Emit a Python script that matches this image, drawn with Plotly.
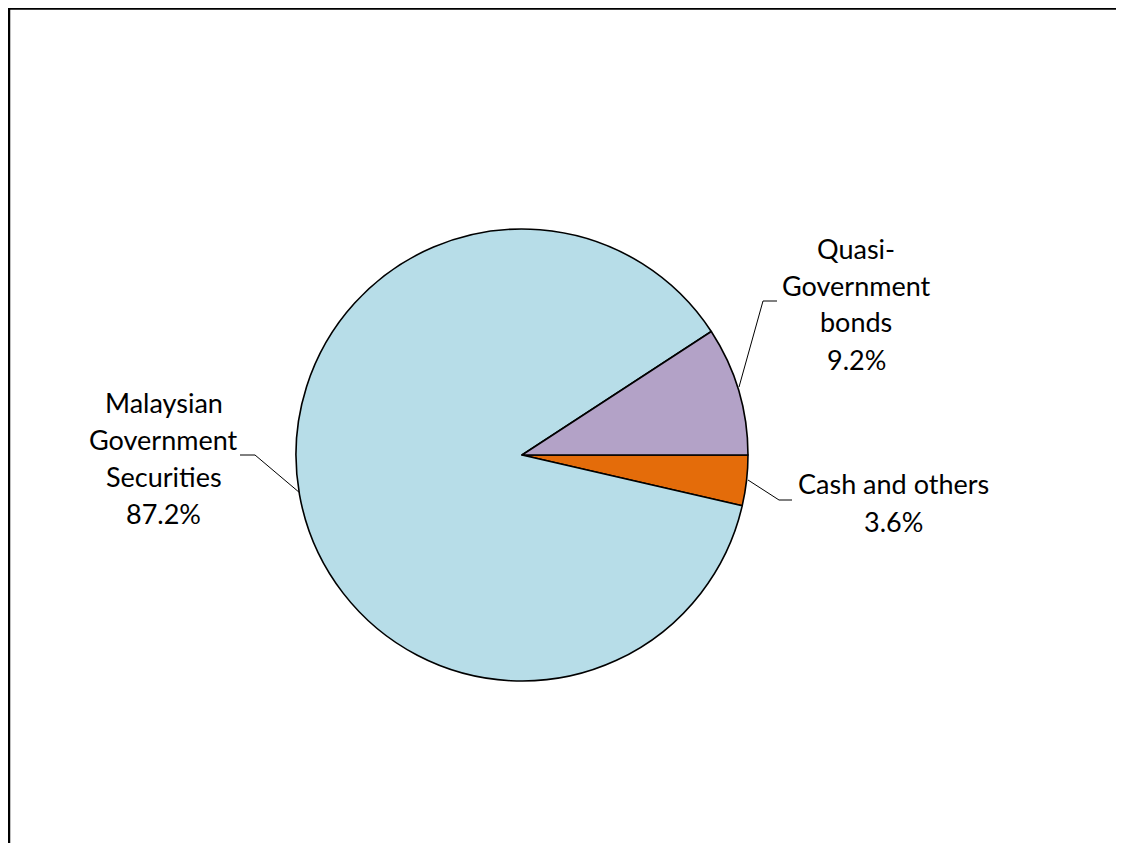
import plotly.graph_objects as go

labels = ["Cash and others", "Malaysian Government Securities", "Quasi-Government bonds"]
label_lines = [["Cash and others"], ["Malaysian", "Government", "Securities"], ["Quasi-", "Government", "bonds"]]
values = [3.6, 87.2, 9.2]
colors = ["#E46C0A", "#B7DDE8", "#B3A2C7"]

W, H = 1116, 835
OFF = 8  # page body margin
cx, cy, r = 522, 455, 226

def px(x):
    return (x - OFF) / W

def py(y):
    return 1 - (y - OFF) / H

fig = go.Figure()
fig.add_trace(go.Pie(
    labels=labels, values=values, sort=False, direction="clockwise", rotation=90,
    marker=dict(colors=colors, line=dict(color="black", width=1.6)),
    textinfo="none", hoverinfo="label+percent", showlegend=False,
    domain=dict(x=[px(cx - r), px(cx + r)], y=[py(cy + r), py(cy - r)]),
))

font = dict(family="Lato, 'Open Sans', sans-serif", size=27, color="black")
# label positions (x center, y of first line)
label_pos = [(893, 484), (164, 402), (856, 248)]
line_h = 37
for lines, v, (lx, ly) in zip(label_lines, values, label_pos):
    all_lines = lines + [f"{v:.1f}%"]
    for i, t in enumerate(all_lines):
        fig.add_annotation(x=px(lx), y=py(ly + i * line_h), xref="paper", yref="paper",
                           text=t, showarrow=False, font=font, xanchor="center", yanchor="middle")

leaders = [
    [(748, 480), (779, 500), (792, 500)],
    [(300, 493), (255, 455), (240, 455)],
    [(739, 387), (763, 301), (777, 301)],
]
for pts in leaders:
    path = "M " + " L ".join(f"{px(x)},{py(y)}" for x, y in pts)
    fig.add_shape(type="path", path=path, xref="paper", yref="paper",
                  line=dict(color="black", width=1))

fig.add_shape(type="rect", x0=px(9), x1=px(1121.5), y0=py(880), y1=py(8.5), xref="paper", yref="paper",
              line=dict(color="black", width=2.5))

fig.update_layout(width=W, height=H, margin=dict(l=0, r=0, t=0, b=0),
                  paper_bgcolor="white", plot_bgcolor="white")
fig.write_html("out.html")
